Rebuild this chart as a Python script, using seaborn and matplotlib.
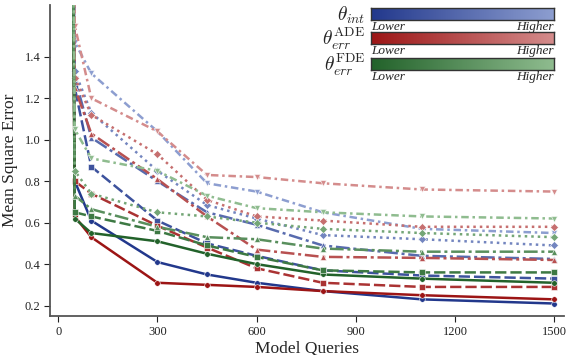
import numpy as np
import pandas as pd
import matplotlib
matplotlib.use("Agg")
import matplotlib.pyplot as plt
from matplotlib.colors import LinearSegmentedColormap
import seaborn as sns

# model queries
queries = [40, 50, 100, 300, 450, 600, 800, 1100, 1500]

# theta_int (blue), lower -> higher threshold
blue_o = [3.0, 0.80, 0.61, 0.41, 0.35, 0.31, 0.27, 0.23, 0.21]
blue_s = [3.0, 1.25, 0.87, 0.61, 0.50, 0.44, 0.37, 0.345, 0.33]
blue_t = [3.0, 1.30, 1.01, 0.80, 0.65, 0.59, 0.49, 0.44, 0.425]
blue_d = [3.0, 1.33, 1.13, 0.85, 0.685, 0.62, 0.54, 0.52, 0.49]
blue_v = [3.0, 1.47, 1.32, 1.04, 0.79, 0.75, 0.65, 0.57, 0.55]

# theta_err ADE (red)
red_o = [3.0, 0.63, 0.53, 0.31, 0.30, 0.29, 0.27, 0.25, 0.23]
red_s = [3.0, 0.80, 0.74, 0.585, 0.48, 0.38, 0.31, 0.29, 0.29]
red_t = [3.0, 1.25, 1.03, 0.81, 0.63, 0.47, 0.435, 0.43, 0.42]
red_d = [3.0, 1.30, 1.12, 0.93, 0.71, 0.63, 0.61, 0.58, 0.58]
red_v = [3.0, 1.55, 1.20, 1.04, 0.83, 0.82, 0.79, 0.76, 0.75]

# theta_err FDE (green)
green_o = [3.0, 0.62, 0.55, 0.51, 0.45, 0.40, 0.35, 0.33, 0.31]
green_s = [3.0, 0.65, 0.63, 0.56, 0.49, 0.435, 0.37, 0.36, 0.36]
green_t = [3.0, 0.73, 0.665, 0.58, 0.53, 0.52, 0.475, 0.46, 0.46]
green_d = [3.0, 0.85, 0.74, 0.65, 0.63, 0.60, 0.57, 0.55, 0.53]
green_v = [3.0, 1.05, 0.91, 0.85, 0.73, 0.67, 0.65, 0.63, 0.62]

groups = {
    "int": [blue_o, blue_s, blue_t, blue_d, blue_v],
    "ade": [red_o, red_s, red_t, red_d, red_v],
    "fde": [green_o, green_s, green_t, green_d, green_v],
}
levels = ["l1", "l2", "l3", "l4", "l5"]

cmaps = {
    "int": LinearSegmentedColormap.from_list("b", ["#22388c", "#8d9ed0"]),
    "ade": LinearSegmentedColormap.from_list("r", ["#9c1515", "#d48c8c"]),
    "fde": LinearSegmentedColormap.from_list("g", ["#22622a", "#8fbc8f"]),
}

rows = []
palette = {}
for g, series in groups.items():
    for i, vals in enumerate(series):
        name = g + "_" + levels[i]
        palette[name] = cmaps[g](i / 4)
        for q, v in zip(queries, vals):
            rows.append([q, v, name, levels[i]])
df = pd.DataFrame(rows, columns=["queries", "mse", "line", "level"])

sns.set_style("ticks")
plt.rcParams["font.family"] = ["Liberation Serif", "DejaVu Serif"]
plt.rcParams["mathtext.fontset"] = "cm"

fig = plt.figure(figsize=(5.68, 3.55), dpi=100)
ax = fig.add_axes([0.088, 0.11, 0.905, 0.876])

dashes = {
    "l1": "",
    "l2": (4.5, 1.6),
    "l3": (5.5, 1.5, 1.2, 1.5),
    "l4": (1, 1.6),
    "l5": (3, 1.5, 1, 1.5),
}
markers = {"l1": "o", "l2": "s", "l3": "^", "l4": "D", "l5": "v"}

sns.lineplot(data=df, x="queries", y="mse", hue="line", style="level",
             palette=palette, dashes=dashes, markers=markers,
             linewidth=1.8, markersize=4, markeredgecolor="white",
             markeredgewidth=0.4, legend=False, ax=ax, estimator=None)

ax.set_xlim(-25, 1530)
ax.set_ylim(0.15, 1.65)
ax.set_xticks([0, 300, 600, 900, 1200, 1500])
ax.set_yticks([0.2, 0.4, 0.6, 0.8, 1.0, 1.2, 1.4])
ax.tick_params(labelsize=9, colors="#222222", length=4, pad=3)
for s in ["left", "bottom"]:
    ax.spines[s].set_color("#555555")
    ax.spines[s].set_linewidth(1.3)
sns.despine(ax=ax)
ax.set_xlabel("Model Queries", fontsize=12.5, labelpad=2)
ax.set_ylabel("Mean Square Error", fontsize=12.5, labelpad=5)

# gradient legends
grad = np.linspace(0, 1, 256).reshape(1, -1)
labels = [r"$\theta_{int}$", r"$\theta_{err}^{\mathrm{ADE}}$", r"$\theta_{err}^{\mathrm{FDE}}$"]
bottoms = [0.944, 0.876, 0.803]
for (g, lab, b) in zip(["int", "ade", "fde"], labels, bottoms):
    cax = fig.add_axes([0.653, b, 0.322, 0.033])
    cax.imshow(grad, aspect="auto", cmap=cmaps[g])
    cax.set_xticks([])
    cax.set_yticks([])
    for sp in cax.spines.values():
        sp.set_color("#333333")
        sp.set_linewidth(1)
    fig.text(0.643, b + 0.014, lab, fontsize=14, ha="right", va="center")
    fig.text(0.653, b - 0.004, "Lower", fontsize=9.5, style="italic", ha="left", va="top")
    fig.text(0.975, b - 0.004, "Higher", fontsize=9.5, style="italic", ha="right", va="top")

fig.savefig("out.png", dpi=100)
